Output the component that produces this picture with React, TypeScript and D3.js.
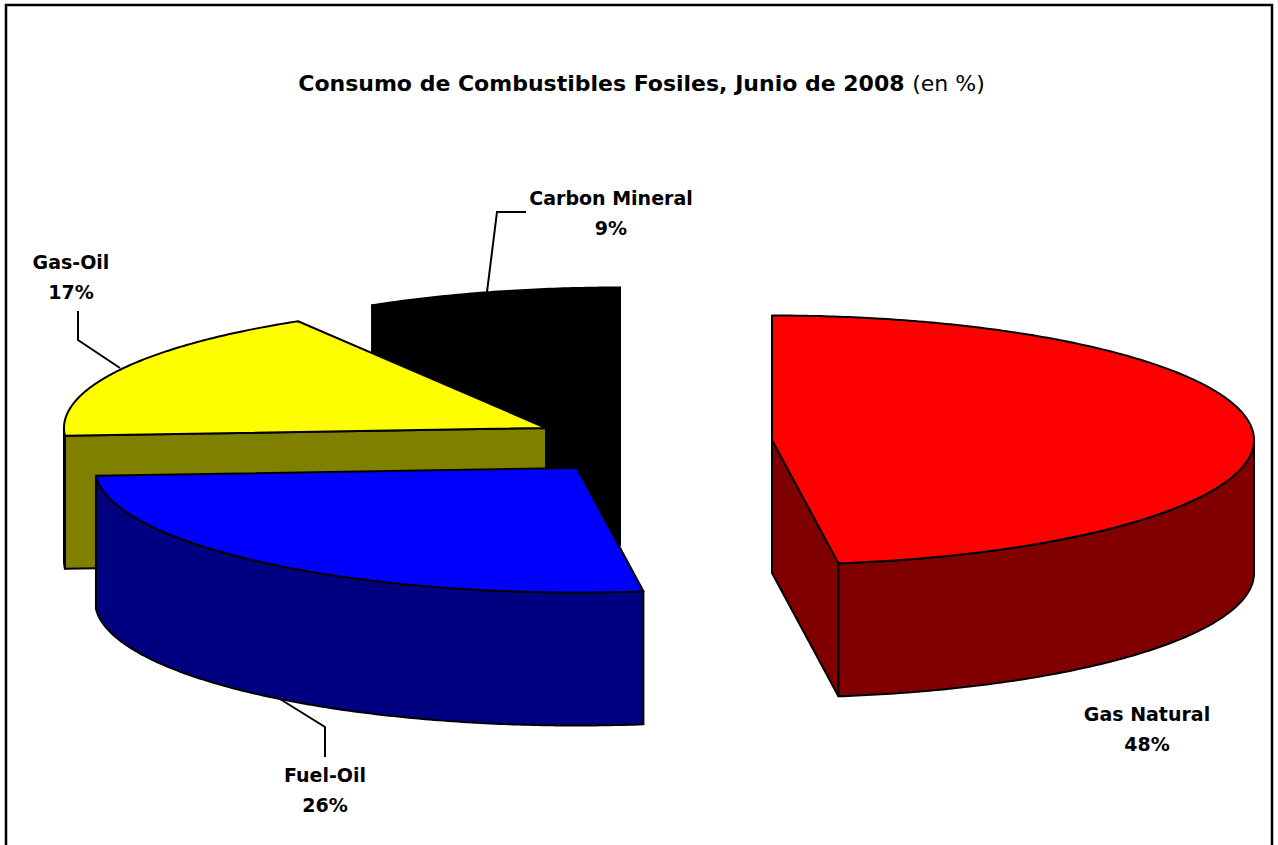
import React from "react";
import * as d3 from "d3";

const categories = ["Gas Natural", "Fuel-Oil", "Gas-Oil", "Carbon Mineral"];
const shares = [47.8, 26.2, 17.4, 8.6];
const labelValues = ["48%", "26%", "17%", "9%"];
const colors = ["#ff0000", "#0000ff", "#ffff00", "#000000"];
const sideColors = ["#800000", "#000080", "#808000", "#000000"];
const apexX = [772, 577, 546, 620];
const apexY = [440, 468, 428, 412];
const labelX = [1147, 325, 71, 611];
const labelY = [721, 782, 269, 205];
const leaders: [number, number][][] = [
  [],
  [[280, 699], [325, 727], [325, 757]],
  [[78, 311], [78, 340], [120, 368]],
  [[487, 292], [497, 212], [526, 212]],
];

const W = 1278;
const H = 845;
const RX = 482;
const RY = 124.5;
const DEPTH = 133;
const FONT = "'DejaVu Sans', Tahoma, sans-serif";

const pie = d3.pie<number>().sort(null).value((d) => d);
const arcs = pie(shares);
const line = d3.line<[number, number]>();

function project(i: number, a: number, dy = 0): [number, number] {
  return [apexX[i] + RX * Math.sin(a), apexY[i] - RY * Math.cos(a) + dy];
}
function rim(i: number, a0: number, a1: number, dy = 0): [number, number][] {
  const n = Math.max(2, Math.ceil(Math.abs(a1 - a0) / 0.01));
  return d3.range(n + 1).map((k) => project(i, a0 + ((a1 - a0) * k) / n, dy));
}
function topFace(i: number) {
  const { startAngle, endAngle } = arcs[i];
  return line([[apexX[i], apexY[i]], ...rim(i, startAngle, endAngle)]) + "Z";
}
// outer wall: the part of the rim on the front half of the ellipse
function wall(i: number) {
  const a0 = Math.max(arcs[i].startAngle, Math.PI / 2);
  const a1 = Math.min(arcs[i].endAngle, (3 * Math.PI) / 2);
  if (a1 <= a0) return null;
  return line([...rim(i, a0, a1), ...rim(i, a1, a0, DEPTH)]) + "Z";
}
// planar cut through the apex, extruded downward
function cut(i: number, a: number) {
  const p = project(i, a);
  const apex: [number, number] = [apexX[i], apexY[i]];
  return (
    line([apex, p, [p[0], p[1] + DEPTH], [apex[0], apex[1] + DEPTH]]) + "Z"
  );
}

// draw order: back slices first, red last
const order = [3, 2, 1, 0];

export default function App() {
  return (
    <svg
      width={W}
      height={H}
      style={{ position: "absolute", left: 0, top: 0, background: "#fff" }}
    >
      <rect x={6} y={5} width={1266} height={H + 20} fill="#fff" stroke="#000" strokeWidth={2.5} />
      {order.map((i) => {
        const w = wall(i);
        return (
          <g key={categories[i]} stroke="#000" strokeWidth={2} strokeLinejoin="round">
            {i === 3 && <path d={cut(i, arcs[i].startAngle)} fill={sideColors[i]} />}
            {i === 3 && <path d={cut(i, arcs[i].endAngle)} fill={sideColors[i]} />}
            {i === 2 && <path d={cut(i, arcs[i].startAngle)} fill={sideColors[i]} />}
            {i === 0 && <path d={cut(i, arcs[i].endAngle)} fill={sideColors[i]} />}
            {w && <path d={w} fill={sideColors[i]} />}
            <path d={topFace(i)} fill={colors[i]} />
          </g>
        );
      })}
      {leaders.map((pts, i) =>
        pts.length ? (
          <path key={i} d={line(pts) ?? ""} fill="none" stroke="#000" strokeWidth={2} />
        ) : null
      )}
      <text x={641.5} y={91} textAnchor="middle" fontFamily={FONT} fontSize={22} fill="#000">
        <tspan fontWeight={700}>Consumo de Combustibles Fosiles, Junio de 2008 </tspan>
        <tspan>(en %)</tspan>
      </text>
      {categories.map((c, i) => (
        <text key={c} textAnchor="middle" fontFamily={FONT} fontSize={19} fontWeight={700} fill="#000">
          <tspan x={labelX[i]} y={labelY[i]}>{c}</tspan>
          <tspan x={labelX[i]} y={labelY[i] + 30}>{labelValues[i]}</tspan>
        </text>
      ))}
    </svg>
  );
}
